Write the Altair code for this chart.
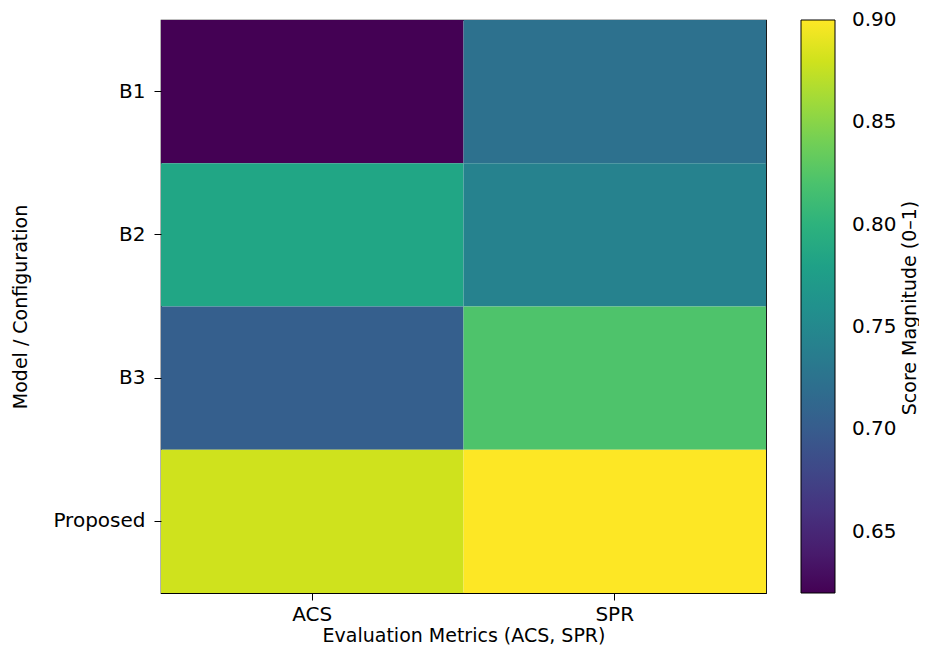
import altair as alt
import pandas as pd

models = ["B1", "B2", "B3", "Proposed"]
metrics = ["ACS", "SPR"]
acs_scores = [0.620, 0.786, 0.703, 0.880]
spr_scores = [0.724, 0.743, 0.822, 0.900]
legend_ticks = [0.65, 0.70, 0.75, 0.80, 0.85, 0.90]
colorbar_title = ["Score Magnitude (0–1)"]

rows = []
for m, a, s in zip(models, acs_scores, spr_scores):
    rows.append({"model": m, "metric": "ACS", "score": a})
    rows.append({"model": m, "metric": "SPR", "score": s})
df = pd.DataFrame(rows)

FONT = "DejaVu Sans"

heat = (
    alt.Chart(df)
    .mark_rect()
    .encode(
        x=alt.X(
            "metric:N",
            sort=metrics,
            scale=alt.Scale(paddingInner=0, paddingOuter=0),
            axis=alt.Axis(
                title="Evaluation Metrics (ACS, SPR)",
                labelAngle=0,
                tickSize=7,
                labelPadding=4,
                titlePadding=2,
                titleFontSize=19,
                domain=False,
                tickColor="black",
            ),
        ),
        y=alt.Y(
            "model:N",
            sort=models,
            scale=alt.Scale(paddingInner=0, paddingOuter=0),
            axis=alt.Axis(
                title="Model / Configuration",
                tickSize=7,
                labelPadding=9,
                titlePadding=22,
                domain=False,
                tickColor="black",
            ),
        ),
        color=alt.Color(
            "score:Q",
            scale=alt.Scale(scheme="viridis", domain=[0.62, 0.9001]),
            legend=alt.Legend(
                title=None,
                type="gradient",
                direction="vertical",
                gradientLength=573,
                gradientThickness=34,
                gradientStrokeColor="black",
                gradientStrokeWidth=1,
                values=legend_ticks,
                format=".2f",
                labelOverlap=False,
                labelOffset=17,
                labelBaseline="middle",
                offset=35,
                labelFontSize=20,
                labelFont=FONT,
                labelColor="black",
            ),
        ),
    )
)

cb_title = (
    alt.Chart(pd.DataFrame({"t": colorbar_title}))
    .mark_text(angle=270, align="center", baseline="middle", font=FONT, fontSize=19, color="black")
    .encode(text="t:N", x=alt.value(749), y=alt.value(288))
)

chart = (
    alt.layer(heat, cb_title)
    .properties(
        width=605,
        height=573,
        autosize=alt.AutoSizeParams(type="none"),
        padding={"left": 153, "top": 12, "right": 153, "bottom": 52},
    )
    .configure_view(stroke="black", strokeWidth=1.2)
    .configure_axis(
        labelFont=FONT,
        titleFont=FONT,
        labelFontSize=20,
        titleFontSize=19,
        titleFontWeight="normal",
        labelColor="black",
        titleColor="black",
    )
)

chart.save("out.html", embed_options={"renderer": "svg", "actions": False})
